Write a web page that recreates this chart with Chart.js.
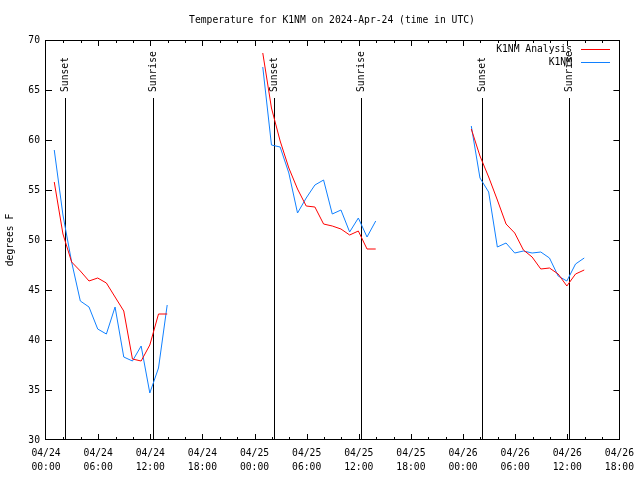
<!DOCTYPE html>
<html>
<head>
<meta charset="utf-8">
<script src="https://cdn.jsdelivr.net/npm/chart.js@4/dist/chart.umd.min.js"></script>
<style>
  html, body { margin: 0; padding: 0; background: #fff; }
</style>
</head>
<body>
<canvas id="tempChart" width="640" height="480"></canvas>
<script>
const titleText = 'Temperature for K1NM on 2024-Apr-24 (time in UTC)';
const yAxisLabel = 'degrees F';
const seriesNames = ['K1NM Analysis', 'K1NM'];
const seriesColors = ['#ff0000', '#1080ff'];

// x tick labels, one per 6 hours from 04/24 00:00
const tickDates = ['04/24', '04/24', '04/24', '04/24', '04/25', '04/25', '04/25', '04/25', '04/26', '04/26', '04/26', '04/26'];
const tickTimes = ['00:00', '06:00', '12:00', '18:00', '00:00', '06:00', '12:00', '18:00', '00:00', '06:00', '12:00', '18:00'];

// hours since 04/24 00:00 UTC
const hoursApr24 = [0.95, 1.95, 2.95, 3.95, 4.95, 5.95, 6.95, 7.95, 8.95, 9.95, 10.95, 11.95, 12.95, 13.95];
const hoursApr25 = [24.95, 25.95, 26.95, 27.95, 28.95, 29.95, 30.95, 31.95, 32.95, 33.95, 34.95, 35.95, 36.95, 37.95];
const hoursApr26 = [48.95, 49.95, 50.95, 51.95, 52.95, 53.95, 54.95, 55.95, 56.95, 57.95, 58.95, 59.95, 60.95, 61.95];

const analysisApr24 = [55.8, 50.6, 47.8, 46.9, 45.9, 46.2, 45.7, 44.3, 42.9, 38.1, 37.9, 39.5, 42.6, 42.6];
const analysisApr25 = [68.7, 63.2, 59.9, 57.2, 55.1, 53.4, 53.3, 51.6, 51.4, 51.1, 50.5, 50.9, 49.1, 49.1];
const analysisApr26 = [61.1, 58.4, 56.3, 54.0, 51.6, 50.7, 49.0, 48.3, 47.1, 47.2, 46.6, 45.4, 46.6, 47.0];

const k1nmApr24 = [59.0, 52.5, 47.8, 43.9, 43.3, 41.1, 40.6, 43.3, 38.3, 37.9, 39.4, 34.7, 37.2, 43.5];
const k1nmApr25 = [67.3, 59.5, 59.3, 56.7, 52.7, 54.2, 55.5, 56.0, 52.6, 53.0, 50.8, 52.2, 50.3, 51.9];
const k1nmApr26 = [61.4, 56.2, 54.8, 49.3, 49.7, 48.7, 48.9, 48.7, 48.8, 48.2, 46.4, 45.9, 47.6, 48.2];

const sunsetHours = [2.2, 26.2, 50.2];
const sunriseHours = [12.3, 36.3, 60.2];

const FONT = '"DejaVu Sans Mono", "Liberation Mono", monospace';
const FONT_SIZE = 9.7;

// join the daily pieces, with a null between them so the line breaks
function toPoints(hourLists, tempLists) {
  const pts = [];
  hourLists.forEach((hours, i) => {
    if (i > 0) pts.push({ x: hours[0] - 1, y: null });
    hours.forEach((h, j) => pts.push({ x: h, y: tempLists[i][j] }));
  });
  return pts;
}

const dayHours = [hoursApr24, hoursApr25, hoursApr26];

const gnuplotLook = {
  id: 'gnuplotLook',
  beforeDatasetsDraw(chart) {
    const { ctx, chartArea, scales } = chart;
    ctx.save();
    ctx.strokeStyle = '#000';
    ctx.lineWidth = 1;
    ctx.fillStyle = '#000';
    ctx.font = FONT_SIZE + 'px ' + FONT;
    const events = sunsetHours.map(h => [h, 'Sunset']).concat(sunriseHours.map(h => [h, 'Sunrise']));
    events.forEach(([h, label]) => {
      const x = Math.round(scales.x.getPixelForValue(h)) + 0.5;
      ctx.beginPath();
      ctx.moveTo(x, 98);
      ctx.lineTo(x, chartArea.bottom);
      ctx.stroke();
      ctx.save();
      ctx.translate(x, 92);
      ctx.rotate(-Math.PI / 2);
      ctx.textAlign = 'left';
      ctx.textBaseline = 'middle';
      ctx.fillText(label, 0, 0);
      ctx.restore();
    });
    ctx.restore();
  },
  afterDraw(chart) {
    const { ctx, chartArea, scales } = chart;
    const { left, right, top, bottom } = chartArea;
    ctx.save();
    ctx.strokeStyle = '#000';
    ctx.fillStyle = '#000';
    ctx.lineWidth = 1;

    // frame
    ctx.strokeRect(Math.round(left) - 0.5, Math.round(top) + 0.5, Math.round(right - left) + 1, Math.round(bottom - top) - 1);

    // inward ticks: x every 2 h (major every 6 h), y every 5 degrees
    ctx.beginPath();
    for (let h = 2; h < 66; h += 2) {
      const x = Math.round(scales.x.getPixelForValue(h)) + 0.5;
      const len = h % 6 === 0 ? 6 : 3;
      ctx.moveTo(x, bottom);
      ctx.lineTo(x, bottom - len);
      ctx.moveTo(x, top);
      ctx.lineTo(x, top + len);
    }
    for (let t = 35; t < 70; t += 5) {
      const y = Math.round(scales.y.getPixelForValue(t)) + 0.5;
      ctx.moveTo(left, y);
      ctx.lineTo(left + 6, y);
      ctx.moveTo(right, y);
      ctx.lineTo(right - 6, y);
    }
    ctx.stroke();

    ctx.font = FONT_SIZE + 'px ' + FONT;

    // title
    ctx.textAlign = 'center';
    ctx.textBaseline = 'middle';
    ctx.fillText(titleText, 332, 20);

    // y axis label
    ctx.save();
    ctx.translate(10, 240);
    ctx.rotate(-Math.PI / 2);
    ctx.fillText(yAxisLabel, 0, 0);
    ctx.restore();

    // legend
    ctx.textAlign = 'right';
    seriesNames.forEach((name, i) => {
      const y = 49 + i * 13;
      ctx.fillStyle = '#000';
      ctx.fillText(name, 572, y);
      ctx.strokeStyle = seriesColors[i];
      ctx.beginPath();
      ctx.moveTo(581, y + 0.5);
      ctx.lineTo(610, y + 0.5);
      ctx.stroke();
    });
    ctx.restore();
  }
};

const ctx = document.getElementById('tempChart').getContext('2d');
new Chart(ctx, {
  type: 'line',
  data: {
    datasets: [
      {
        label: seriesNames[0],
        data: toPoints(dayHours, [analysisApr24, analysisApr25, analysisApr26]),
        borderColor: seriesColors[0],
        borderWidth: 1,
        pointRadius: 0,
        tension: 0,
        spanGaps: false
      },
      {
        label: seriesNames[1],
        data: toPoints(dayHours, [k1nmApr24, k1nmApr25, k1nmApr26]),
        borderColor: seriesColors[1],
        borderWidth: 1,
        pointRadius: 0,
        tension: 0,
        spanGaps: false
      }
    ]
  },
  options: {
    responsive: false,
    animation: false,
    layout: { padding: { top: 40, right: 19, left: 0, bottom: 0 } },
    plugins: {
      legend: { display: false },
      tooltip: { enabled: false },
      title: { display: false }
    },
    scales: {
      x: {
        type: 'linear',
        min: 0,
        max: 66,
        grid: { display: false, drawTicks: false },
        border: { display: false },
        afterFit: s => { s.height = 40; },
        ticks: {
          stepSize: 6,
          autoSkip: false,
          maxRotation: 0,
          padding: 6,
          color: '#000',
          font: { family: FONT, size: FONT_SIZE, lineHeight: 1.5 },
          callback: v => [tickDates[v / 6], tickTimes[v / 6]]
        }
      },
      y: {
        min: 30,
        max: 70,
        grid: { display: false, drawTicks: false },
        border: { display: false },
        afterFit: s => { s.width = 46; },
        ticks: {
          stepSize: 5,
          padding: 6,
          color: '#000',
          font: { family: FONT, size: FONT_SIZE }
        }
      }
    }
  },
  plugins: [gnuplotLook]
});
</script>
</body>
</html>
